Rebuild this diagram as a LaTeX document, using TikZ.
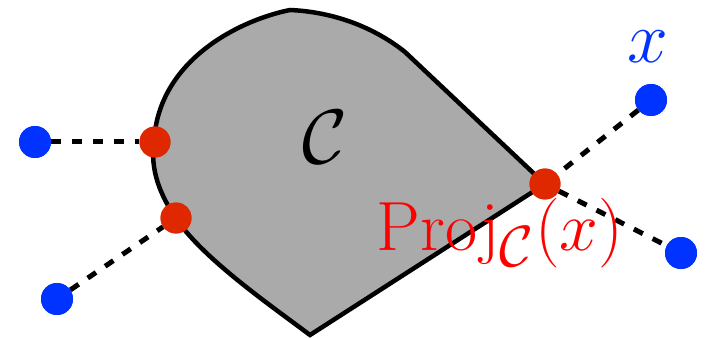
\documentclass[tikz,border=0pt]{standalone}
\definecolor{projred}{RGB}{224,40,0}
\definecolor{ptblue}{RGB}{0,51,255}
\definecolor{setgray}{RGB}{170,170,170}
\tikzset{
  reddot/.style={circle,fill=projred,inner sep=0pt,minimum size=31pt},
  bluedot/.style={circle,fill=ptblue,inner sep=0pt,minimum size=32pt},
  projline/.style={black,line width=5pt,dash pattern=on 10pt off 11pt},
  outline/.style={fill=setgray,draw=black,line width=4.5pt,line join=miter},
  bigtext/.style={font=\Huge,inner sep=0pt,transform shape,scale=#1},
}
\begin{document}
\begin{tikzpicture}[x=1pt,y=-1pt]
\useasboundingbox (0,0) rectangle (706,339);
% convex set
\draw[outline] (290,10) .. controls (335,12) and (375,28) .. (405,52)
  -- (545,184) -- (310,335)
  .. controls (270,305) and (205,260) .. (177,220)
  .. controls (160,195) and (150,170) .. (154,142)
  .. controls (158,60) and (240,20) .. (290,10) -- cycle;
\node[bigtext=3.1] (C) at (325,137) {$\mathcal{C}$};
% points
\node[bluedot] (b1) at (35,142) {};
\node[bluedot] (b2) at (57,299) {};
\node[bluedot] (b3) at (651,100) {};
\node[bluedot] (b4) at (681,253) {};
\node[reddot] (r1) at (155,142) {};
\node[reddot] (r2) at (176,218) {};
\node[reddot] (r3) at (545,184) {};
\draw[projline] (b1) -- (r1);
\draw[projline] (b2) -- (r2);
\draw[projline] (b3) -- (r3);
\draw[projline] (r3) -- (b4);
% redraw dots on top
\node[bluedot] at (b1) {};
\node[bluedot] at (b2) {};
\node[bluedot] at (b3) {};
\node[bluedot] at (b4) {};
\node[reddot] at (r1) {};
\node[reddot] at (r2) {};
\node[reddot] at (r3) {};
\node[bigtext=2.95,text=ptblue] (xl) at (648,47) {$x$};
\node[bigtext=2.8,text=red] (pl) at (500,233) {$\mathrm{Proj}_{\mathcal{C}}(x)$};
\end{tikzpicture}
\end{document}
